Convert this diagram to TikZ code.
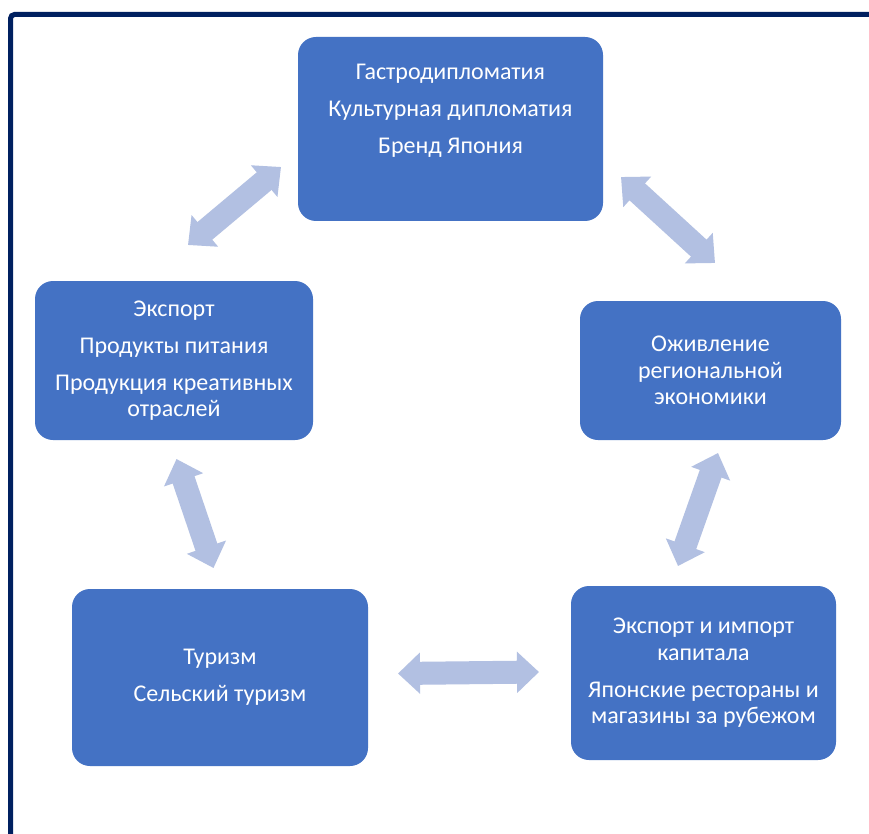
\documentclass[tikz,border=0pt]{standalone}
\usepackage{fontspec}
\setmainfont{Carlito}
\usetikzlibrary{arrows.meta}
\definecolor{boxblue}{RGB}{68,114,196}
\definecolor{arrowblue}{RGB}{178,192,226}
\definecolor{navy}{RGB}{0,32,96}
\tikzset{
  box/.style={fill=boxblue, rounded corners=18pt, inner sep=0pt, align=center,
    text=white, font=\fontsize{24}{26.5}\selectfont},
  txt/.style={align=center, text=white, font=\fontsize{24}{26.5}\selectfont, inner sep=0pt},
  dbl/.style={arrowblue, line width=23pt,
    {Triangle[width=40pt,length=22pt]}-{Triangle[width=40pt,length=22pt]}}
}
\begin{document}
\begin{tikzpicture}[x=1pt,y=-1pt]
\useasboundingbox (0,0) rectangle (869,834);
\fill[white] (0,0) rectangle (869,834);
% frame
\draw[navy, line width=5pt, rounded corners=4pt] (10.5,900) -- (10.5,14.5) -- (950,14.5);
% boxes
\node[box, minimum width=305pt, minimum height=184pt] (b1) at (450.5,129) {};
\node[txt] (t1) at (450.5,110.5) {Гастродипломатия\\[10.5pt]Культурная дипломатия\\[10.5pt]Бренд Япония};
\node[box, minimum width=278pt, minimum height=159pt] (b2) at (174,360.5)
  {Экспорт\\[10.5pt]Продукты питания\\[10.5pt]Продукция креативных\\отраслей};
\node[box, minimum width=261pt, minimum height=139pt] (b3) at (710.5,370.5)
  {Оживление\\региональной\\экономики};
\node[box, minimum width=296pt, minimum height=177pt] (b4) at (220,677.5)
  {Туризм\\[10.5pt]Сельский туризм};
\node[box, minimum width=265pt, minimum height=174pt] (b5) at (703.5,673)
  {Экспорт и импорт\\капитала\\[10.5pt]Японские рестораны и\\магазины за рубежом};
% arrow ends
\coordinate (a1s) at (188,245); \coordinate (a1e) at (281,167);
\coordinate (a2s) at (621,177); \coordinate (a2e) at (715,263);
\coordinate (a3s) at (176.5,459); \coordinate (a3e) at (213.5,568);
\coordinate (a4s) at (718,453); \coordinate (a4e) at (678,566);
\coordinate (a5s) at (398,673.5); \coordinate (a5e) at (539,672);
\draw[dbl] (a1s) -- (a1e);
\draw[dbl] (a2s) -- (a2e);
\draw[dbl] (a3s) -- (a3e);
\draw[dbl] (a4s) -- (a4e);
\draw[dbl] (a5s) -- (a5e);
\end{tikzpicture}
\end{document}
